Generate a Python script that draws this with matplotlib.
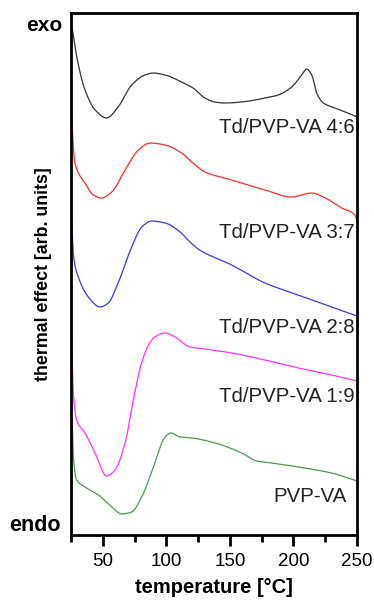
import matplotlib.pyplot as plt
import numpy as np

plt.rcParams['font.family'] = ['Liberation Sans', 'DejaVu Sans']

# temperatures (C) and signal heights (arb. units)
t_46 = [25.5, 29.5, 36, 44, 53, 62, 72.7, 83, 89.7, 99, 112, 121, 130.4, 138, 146, 159,
        177.6, 188, 198.6, 206.5, 210.4, 214.4, 218.3, 223.5, 232.7, 248.4, 250]
y_46 = [510, 478, 445, 425, 417, 428, 450, 460, 462, 460, 453, 447, 437, 433, 432, 433,
        437, 440, 448, 460, 466, 460, 442, 432, 427, 419, 418]

t_37 = [25, 28, 36, 42.5, 49, 57, 67.5, 78, 87.2, 99, 112, 120, 130.4, 151.4, 177.6,
        198.6, 214.4, 225, 238, 248.4, 250]
y_37 = [427, 372, 352, 340, 337, 343, 365, 385, 392, 390, 382, 373, 363, 355, 345,
        338, 342, 337, 327, 320, 314]

t_28 = [25.3, 27, 30.7, 38.6, 47.8, 54.3, 62, 72.7, 80.6, 88.5, 99, 110.8, 118.6, 125,
        151.4, 177.6, 203.8, 230, 250]
y_28 = [318, 278, 258, 238, 228, 232, 252, 288, 308, 314, 312, 303, 293, 286,
        270, 252, 240, 228, 219]

t_19 = [25.3, 27, 29.4, 36, 43.9, 53, 59.6, 67.5, 74, 80, 86, 91, 99, 106.8, 118.6,
        130.4, 151.4, 177.6, 203.8, 230, 250]
y_19 = [195, 138, 115, 102, 82, 59, 65, 92, 135, 170, 190, 198, 202, 198, 188,
        186, 182, 175, 167, 160, 154]

t_pvp = [25.3, 27, 29.4, 36, 46.5, 57, 65, 72.7, 80.6, 89.8, 99, 103.7, 110.8, 120,
         138.3, 159.3, 171, 182.8, 203.8, 230, 250]
y_pvp = [140, 75, 55, 48, 40, 28, 21, 23, 38, 68, 98, 102, 98, 97,
         92, 82, 74, 72, 68, 62, 54]

series = [
    (t_46, y_46, '#333333', 'Td/PVP-VA 4:6', 408, 248),
    (t_37, y_37, '#ff2a2a', 'Td/PVP-VA 3:7', 303, 248),
    (t_28, y_28, '#3a3ae6', 'Td/PVP-VA 2:8', 207, 248),
    (t_19, y_19, '#ff33ff', 'Td/PVP-VA 1:9', 138, 248),
    (t_pvp, y_pvp, '#44a044', 'PVP-VA', 38, 242),
]


def pchip(x, y, xn):
    # monotone cubic through the read points
    x = np.asarray(x, float); y = np.asarray(y, float)
    h = np.diff(x); d = np.diff(y) / h
    m = np.zeros_like(y)
    for i in range(1, len(x) - 1):
        if d[i - 1] * d[i] > 0:
            w1 = 2 * h[i] + h[i - 1]; w2 = h[i] + 2 * h[i - 1]
            m[i] = (w1 + w2) / (w1 / d[i - 1] + w2 / d[i])
    m[0] = d[0]; m[-1] = d[-1]
    i = np.clip(np.searchsorted(x, xn) - 1, 0, len(h) - 1)
    s = (xn - x[i]) / h[i]
    h00 = 2 * s**3 - 3 * s**2 + 1; h10 = s**3 - 2 * s**2 + s
    h01 = -2 * s**3 + 3 * s**2; h11 = s**3 - s**2
    return h00 * y[i] + h10 * h[i] * m[i] + h01 * y[i + 1] + h11 * h[i] * m[i + 1]


fig = plt.figure(figsize=(3.74, 6.03), dpi=100)
ax = fig.add_axes([0.190, 0.1128, 0.7645, 0.8656])

for t, y, c, name, ly, lx in series:
    tt = np.linspace(t[0], t[-1], 600)
    ax.plot(tt, pchip(t, y, tt), color=c, lw=0.9)
    ax.text(lx, ly, name, ha='right', va='center', fontsize=14.7, color='#222222')

ax.set_xlim(25, 250)
ax.set_ylim(0, 522)
ax.set_xticks([50, 100, 150, 200, 250])
ax.set_xticks([25, 75, 125, 175, 225], minor=True)
ax.set_yticks([])
ax.tick_params(axis='x', which='major', direction='out', length=8, width=2, labelsize=13.5, pad=5)
ax.tick_params(axis='x', which='minor', direction='out', length=5, width=2)
for s in ax.spines.values():
    s.set_linewidth(2)

fig.text(0.572, 0.025, 'temperature [°C]', ha='center', va='center', fontsize=14.5, fontweight='bold')
fig.text(0.115, 0.546, 'thermal effect [arb. units]', rotation=90, ha='center', va='center',
         fontsize=12.8, fontweight='bold')
fig.text(0.166, 0.958, 'exo', ha='right', va='center', fontsize=15, fontweight='bold')
fig.text(0.162, 0.129, 'endo', ha='right', va='center', fontsize=15.5, fontweight='bold')

fig.savefig('out.png', dpi=100)
